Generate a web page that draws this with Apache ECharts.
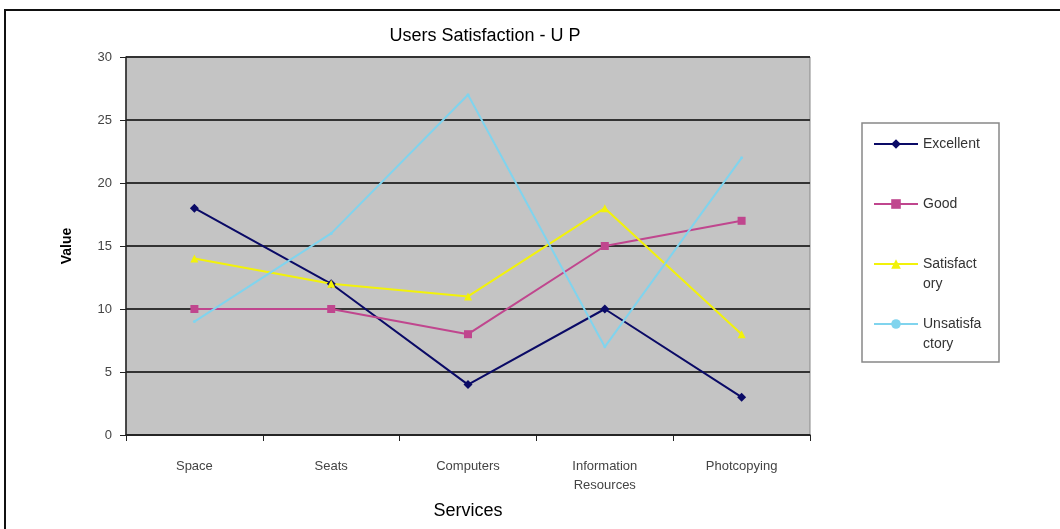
<!DOCTYPE html>
<html>
<head>
<meta charset="utf-8">
<script src="https://cdn.jsdelivr.net/npm/echarts@6/dist/echarts.min.js"></script>
<style>
  html, body { margin: 0; padding: 0; background: #fff; }
  #chart { width: 1060px; height: 529px; }
</style>
</head>
<body>
<div id="chart"></div>
<script>
// data
var services = ["Space", "Seats", "Computers", "Information\nResources", "Photcopying"];
var excellent = [18, 12, 4, 10, 3];
var good = [10, 10, 8, 15, 17];
var satisfactory = [14, 12, 11, 18, 8];
var unsatisfactory = [9, 16, 27, 7, 22];
// legend text wraps like the original (narrow legend box)
var legendLabels = {
  Excellent: "Excellent\n ",
  Good: "Good\n ",
  Satisfactory: "Satisfact\nory",
  Unsatisfactory: "Unsatisfa\nctory"
};

var chart = echarts.init(document.getElementById("chart"));

function line(name, data, color, symbol, size) {
  return {
    name: name,
    type: "line",
    data: data,
    symbol: symbol,
    symbolSize: size,
    lineStyle: { color: color, width: 2 },
    itemStyle: { color: color },
    emphasis: { disabled: true },
    z: 3
  };
}

var options = {
  animation: false,
  backgroundColor: "#fff",
  textStyle: { fontFamily: "Liberation Sans, Arial, sans-serif" },
  title: {
    text: "Users Satisfaction - U P",
    left: 480,
    textAlign: "center",
    top: 22,
    textStyle: { fontSize: 18, fontWeight: "normal", color: "#000" }
  },
  graphic: [
    {
      type: "rect",
      shape: { x: 5, y: 10, width: 1070, height: 540 },
      style: { fill: "none", stroke: "#111", lineWidth: 2 },
      silent: true
    },
    {
      type: "rect",
      shape: { x: 862, y: 123, width: 137, height: 239 },
      style: { fill: "#fff", stroke: "#888", lineWidth: 1.5 },
      silent: true,
      z: -1
    }
  ],
  legend: {
    orient: "vertical",
    left: 868,
    top: 109,
    itemWidth: 44,
    itemHeight: 12,
    itemGap: 0,
    data: ["Excellent", "Good", "Satisfactory", "Unsatisfactory"],
    // leading blank line keeps the first text line level with the icon
    formatter: function (name) { return "\n" + legendLabels[name]; },
    textStyle: { fontSize: 14, color: "#333", lineHeight: 20 },
    selectedMode: false
  },
  grid: {
    left: 126,
    right: 250,
    top: 57,
    bottom: 94,
    show: true,
    backgroundColor: "#c4c4c4",
    borderColor: "#888",
    borderWidth: 1
  },
  xAxis: {
    type: "category",
    data: services,
    boundaryGap: true,
    name: "Services",
    nameLocation: "middle",
    nameGap: 67,
    nameTextStyle: { fontSize: 18, color: "#000" },
    axisLine: { lineStyle: { color: "#222", width: 1.5 } },
    axisTick: { show: true, length: 6, lineStyle: { color: "#222" } },
    axisLabel: { fontSize: 13, color: "#444", margin: 22, lineHeight: 19 }
  },
  yAxis: {
    type: "value",
    min: 0,
    max: 30,
    interval: 5,
    name: "Value",
    nameLocation: "middle",
    nameRotate: 90,
    nameGap: 52,
    nameTextStyle: { fontSize: 14, fontWeight: "bold", color: "#000" },
    axisLine: { show: true, lineStyle: { color: "#222", width: 1.5 } },
    axisTick: { show: true, length: 6, lineStyle: { color: "#222" } },
    axisLabel: { fontSize: 13, color: "#444", margin: 14 },
    splitLine: { show: true, lineStyle: { color: "#333", width: 2 } }
  },
  series: [
    line("Excellent", excellent, "#0a0a66", "diamond", 9),
    line("Good", good, "#c0468e", "rect", 8),
    line("Satisfactory", satisfactory, "#f2f20a", "triangle", 8),
    line("Unsatisfactory", unsatisfactory, "#80d4ee", "circle", 3)
  ]
};

chart.setOption(options);
</script>
</body>
</html>
